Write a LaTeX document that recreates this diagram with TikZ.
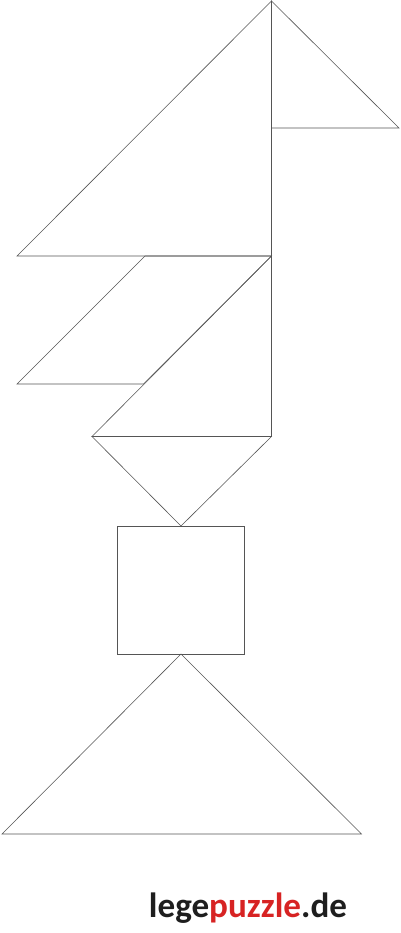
\documentclass[tikz,border=0pt]{standalone}
\usepackage{fontspec}
\usepackage{graphicx}
\newfontfamily\logofont{Carlito}
\definecolor{edge}{RGB}{85,85,85}
\definecolor{logored}{RGB}{215,35,35}
\definecolor{logoblack}{RGB}{30,30,30}
\begin{document}
\begin{tikzpicture}[x=1pt,y=-1pt,
  piece/.style={draw=edge,line width=0.6pt,line join=miter}]
\useasboundingbox (0,0) rectangle (400,933);
% big top triangle
\coordinate (A) at (271.5,1);
\coordinate (B) at (271.5,256);
\coordinate (C) at (17,256);
\draw[piece] (A) -- (B) -- (C) -- cycle;
% small top triangle
\coordinate (D) at (271.5,128);
\coordinate (E) at (399,128);
\draw[piece] (A) -- (D) -- (E) -- cycle;
% parallelogram
\coordinate (P1) at (145,256);
\coordinate (P2) at (17,384);
\coordinate (P3) at (143.5,384);
\draw[piece] (P1) -- (B) -- (P3) -- (P2) -- cycle;
% medium triangle
\coordinate (M1) at (271.5,436.5);
\coordinate (M2) at (92,436.5);
\draw[piece] (B) -- (M1) -- (M2) -- cycle;
% small lower triangle
\coordinate (S) at (181,526);
\draw[piece] (M2) -- (M1) -- (S) -- cycle;
% square
\draw[piece] (117.5,526) rectangle (244.5,654);
% big bottom triangle
\coordinate (T) at (181,654);
\coordinate (L) at (2,834);
\coordinate (R) at (361.5,834);
\draw[piece] (T) -- (L) -- (R) -- cycle;
% logo
\node[anchor=base,inner sep=0pt] (logo) at (248,917)
  {\resizebox{198pt}{!}{\logofont\bfseries\color{logoblack}lege\textcolor{logored}{puzzle}.de}};
\end{tikzpicture}
\end{document}
